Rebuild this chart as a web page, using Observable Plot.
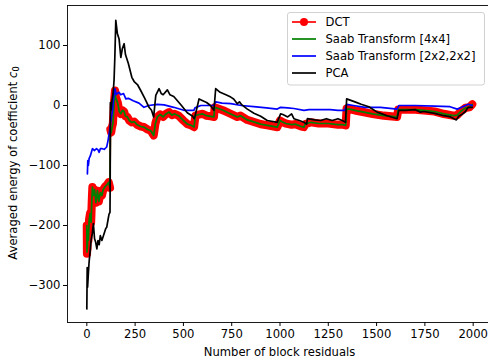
<!DOCTYPE html>
<html>
<head>
<meta charset="utf-8">
<script src="https://cdn.jsdelivr.net/npm/d3@7"></script>
<script src="https://cdn.jsdelivr.net/npm/@observablehq/plot@0.6"></script>
<style>
  html, body { margin: 0; padding: 0; background: #fff; overflow: hidden; }
</style>
</head>
<body>
<script>
// ---- data ----
const seriesNames = ["DCT", "Saab Transform [4x4]", "Saab Transform [2x2,2x2]", "PCA"];
const xTicks = [0, 250, 500, 750, 1000, 1250, 1500, 1750, 2000];
const yTicks = [-300, -200, -100, 0, 100];
const xLabel = "Number of block residuals";
const yLabel = "Averaged energy of coefficient ";

const dctX = [0,1,2,3,5,8,12,17,22,26,29,34,40,47,55,62,70,78,85,95,105,113,120,122,126,130,135,141,146,150,160,168,176,184,193,200,210,220,232,245,260,280,296,315,331,346,355,365,380,395,410,426,440,455,475,500,521,540,555,562,580,600,620,640,658,662,680,705,745,779,796,831,900,934,986,1000,1010,1030,1060,1080,1110,1124,1130,1160,1200,1250,1300,1327,1340,1345,1360,1400,1434,1480,1537,1606,1612,1650,1700,1745,1800,1848,1900,1917,1935,1960,1980,1995];
const dctY = [-200,-247,-215,-240,-205,-225,-190,-180,-195,-158,-136,-150,-140,-162,-142,-160,-145,-150,-140,-135,-132,-128,-137,-40,-45,-36,-30,5,25,14,5,-10,-14,-8,-10,-18,-19,-25,-28,-27,-32,-35,-36,-40,-42,-50,-30,-19,-15,-19,-14,-11,-16,-14,-17,-25,-31,-33,-36,-17,-15,-14,-17,-18,-19,-3,-5,-8,-14,-19,-17,-24,-31,-33,-36,-25,-27,-30,-32,-31,-35,-36,-31,-28,-30,-30,-32,-32,-33,-5,-6,-9,-11,-14,-17,-19,-7,-7,-7,-8,-10,-14,-17,-16,-10,-4,-3,2];

const saab4X = [0,1,2,3,5,8,12,17,22,26,29,34,40,47,55,62,70,78,85,95,105,113,120,122,126,130,135,141,146,150,160,168,176,184,193,200,210,220,232,245,260,280,296,315,331,346,355,365,380,395,410,426,440,455,475,500,521,540,555,562,580,600,620,640,658,662,680,705,745,779,796,831,900,934,986,1000,1010,1030,1060,1080,1110,1124,1130,1160,1200,1250,1300,1327,1340,1345,1360,1400,1434,1480,1537,1606,1612,1650,1700,1745,1800,1848,1900,1917,1935,1960,1980,1995];
const saab4Y = [-200,-244,-215,-238,-208,-225,-192,-180,-195,-158,-136,-150,-140,-162,-142,-160,-145,-150,-140,-135,-132,-128,-137,-40,-45,-38,-30,2,18,13,4,-10,-14,-8,-10,-18,-19,-25,-28,-27,-32,-35,-36,-40,-42,-50,-30,-19,-15,-19,-14,-11,-16,-14,-17,-25,-31,-33,-36,-17,-15,-14,-17,-18,-19,-3,-5,-8,-14,-19,-17,-24,-31,-33,-36,-25,-27,-30,-32,-31,-35,-36,-31,-28,-30,-30,-32,-32,-33,-6,-6,-9,-11,-14,-17,-19,-7,-7,-7,-8,-10,-14,-17,-16,-10,-4,-3,2];

const saab22X = [3,5,8,12,18,29,40,50,58,64,70,80,90,100,103,110,118,125,133,137,146,152,158,167,175,190,202,215,240,270,296,320,365,400,450,502,530,554,560,590,620,657,667,700,745,800,864,930,986,1003,1040,1072,1124,1150,1200,1260,1300,1335,1345,1380,1440,1520,1606,1615,1700,1800,1880,1917,1940,1975,1995];
const saab22Y = [-114,-92,-100,-88,-84,-72,-75,-72,-74,-78,-72,-72,-73,-70,-69,-58,-42,-25,-8,8,28,18,20,22,18,20,11,12,8,4,-3,0,2,1,-3,-8,-8,-8,-4,0,0,0,6,4,3,0,-2,-4,-6,-3,-4,-5,-8,-7,-7,-7,-8,-8,2,0,-3,-3,-6,0,0,-1,-2,-6,-3,2,0];

const pcaX = [0,2,4,8,12,17,22,28,34,40,46,52,58,64,70,78,88,98,103,110,115,120,121,122,126,130,136,141,145,150,158,167,176,184,193,200,215,233,245,262,279,300,322,335,346,357,374,385,395,417,430,450,469,490,520,548,555,560,581,600,620,640,658,667,690,720,745,760,779,790,800,831,865,900,934,986,1003,1015,1040,1060,1072,1100,1124,1138,1142,1180,1210,1240,1270,1300,1322,1339,1345,1388,1420,1460,1503,1555,1606,1615,1650,1700,1727,1745,1800,1848,1883,1913,1925,1945,1960,1969,1975,1995];
const pcaY = [-339,-270,-303,-280,-260,-244,-225,-214,-197,-222,-228,-239,-225,-232,-217,-225,-215,-205,-203,-190,-181,-178,-125,5,-8,8,20,42,80,142,120,111,80,95,103,85,70,47,40,35,25,12,-3,-8,-19,17,28,20,18,26,18,15,8,0,-12,-18,-22,-18,11,8,5,0,-8,28,22,18,14,11,3,6,2,-6,-13,-18,-25,-28,-14,-15,-19,-14,-22,-25,-28,-31,-22,-24,-25,-22,-25,-22,-25,-28,11,6,2,-2,-11,-17,-22,-8,-8,-7,-11,-10,-13,-17,-19,-24,-18,-14,-10,-5,-3,-3];

const seriesColors = ["#ff0000", "#008000", "#0000ff", "#000000"];

// ---- build tables ----
const toRows = (xs, ys) => xs.map((x, i) => ({x, y: ys[i]}));
const dct = toRows(dctX, dctY);
const saab4 = toRows(saab4X, saab4Y);
const saab22 = toRows(saab22X, saab22Y);
const pca = toRows(pcaX, pcaY);

const xDomain = [-100, 2100];
const yDomain = [-361.7, 166.7];

const fmt = d3.format("d");
const FS = 11.6;
const LW = 1.7;

const chart = Plot.plot({
  width: 488,
  height: 361,
  marginLeft: 67,
  marginRight: 0,
  marginTop: 5,
  marginBottom: 39,
  style: {fontFamily: "DejaVu Sans", fontSize: FS + "px", background: "white", overflow: "visible"},
  x: {domain: xDomain, range: [67, 492]},
  y: {domain: yDomain},
  marks: [
    // DCT marker band (split at the big jump, as markers are only at samples)
    Plot.line(dct, {x: "x", y: "y", filter: d => d.x <= 120, stroke: seriesColors[0], strokeWidth: 8.2, strokeLinejoin: "round", strokeLinecap: "round"}),
    Plot.line(dct, {x: "x", y: "y", filter: d => d.x >= 122, stroke: seriesColors[0], strokeWidth: 8.2, strokeLinejoin: "round", strokeLinecap: "round"}),
    Plot.line(dct, {x: "x", y: "y", stroke: seriesColors[0], strokeWidth: LW}),
    Plot.line(saab4, {x: "x", y: "y", stroke: seriesColors[1], strokeWidth: LW}),
    Plot.line(saab22, {x: "x", y: "y", stroke: seriesColors[2], strokeWidth: LW}),
    Plot.line(pca, {x: "x", y: "y", stroke: seriesColors[3], strokeWidth: LW}),
    // spines
    Plot.ruleX([xDomain[0]], {stroke: "black", strokeWidth: 0.9}),
    Plot.ruleY([yDomain[0]], {stroke: "black", strokeWidth: 0.9}),
    Plot.ruleY([yDomain[1]], {stroke: "black", strokeWidth: 0.9}),
    Plot.axisX(xTicks, {tickSize: 4, tickPadding: 2.8, tickFormat: fmt, label: null, stroke: "black", fill: "black"}),
    Plot.axisY(yTicks, {tickSize: 4, tickPadding: 3, tickFormat: fmt, label: null, stroke: "black", fill: "black"})
  ]
});

document.body.appendChild(chart);

// ---- axis titles and legend ----
const svg = d3.select(chart);
const font = "DejaVu Sans";

svg.append("text")
  .attr("x", 279.5).attr("y", 356)
  .attr("text-anchor", "middle")
  .attr("font-family", font).attr("font-size", FS).attr("fill", "black")
  .text(xLabel);

const yl = svg.append("text")
  .attr("transform", "translate(17,163) rotate(-90)")
  .attr("text-anchor", "middle")
  .attr("font-family", font).attr("font-size", FS).attr("fill", "black");
yl.append("tspan").text(yLabel);
yl.append("tspan").attr("font-style", "italic").text("c");
yl.append("tspan").attr("font-size", 8.2).attr("dy", "0.3em").text("0");

const lg = svg.append("g").attr("text-anchor", "start");
lg.append("rect")
  .attr("x", 287.5).attr("y", 12.5).attr("width", 197).attr("height", 72.5)
  .attr("rx", 2.5).attr("ry", 2.5)
  .attr("fill", "white").attr("fill-opacity", 0.8)
  .attr("stroke", "#cccccc").attr("stroke-width", 0.9);
seriesNames.forEach((name, i) => {
  const cy = 22 + i * 17;
  lg.append("line")
    .attr("x1", 292).attr("x2", 316).attr("y1", cy).attr("y2", cy)
    .attr("stroke", seriesColors[i]).attr("stroke-width", LW);
  if (i === 0) {
    lg.append("circle").attr("cx", 304).attr("cy", cy).attr("r", 4).attr("fill", seriesColors[0]);
  }
  lg.append("text")
    .attr("x", 325.5).attr("y", cy).attr("dy", "0.35em")
    .attr("text-anchor", "start")
    .attr("font-family", font).attr("font-size", FS).attr("fill", "black")
    .text(name);
});
</script>
</body>
</html>
